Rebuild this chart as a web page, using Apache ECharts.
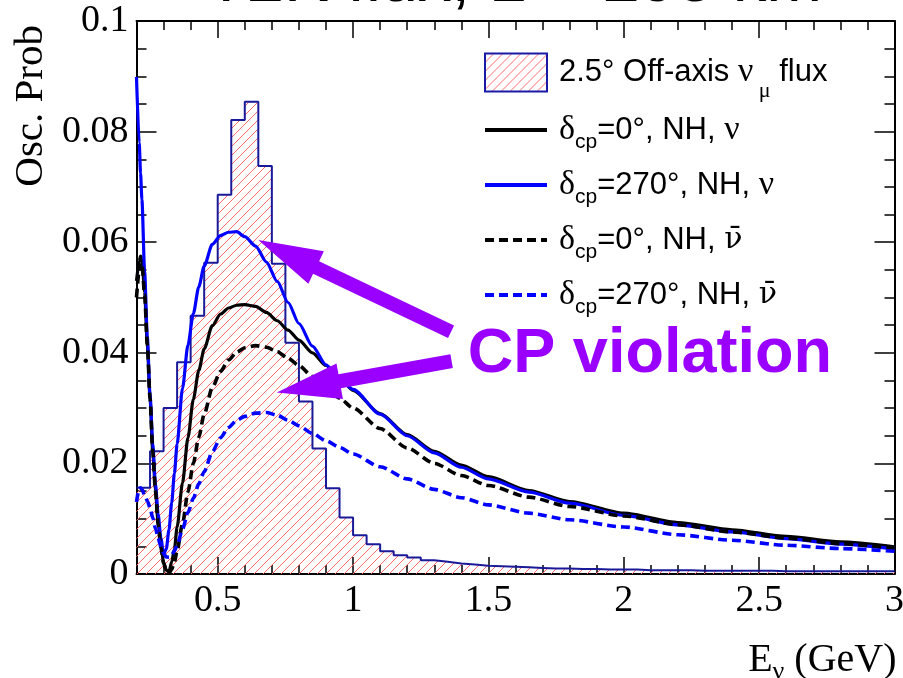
<!DOCTYPE html>
<html><head><meta charset="utf-8">
<script src="https://cdn.jsdelivr.net/npm/echarts@6/dist/echarts.min.js"></script>
<style>html,body{margin:0;padding:0;background:#fff}#c{width:903px;height:678px}</style>
</head><body><div id="c"></div>
<script>
// ---------- data ----------
const energies = [0.20,0.21,0.215,0.22,0.23,0.24,0.25,0.26,0.27,0.28,0.29,0.30,0.31,0.32,0.33,0.34,0.35,0.37,0.39,0.41,0.43,0.45,0.48,0.51,0.54,0.57,0.60,0.64,0.68,0.72,0.76,0.80,0.85,0.90,0.95,1.00,1.10,1.20,1.30,1.40,1.50,1.65,1.80,2.00,2.20,2.40,2.60,2.80,3.00];
const probNu270 = [0.0899,0.0780,0.0725,0.0677,0.0547,0.0429,0.0323,0.0236,0.0163,0.0108,0.0065,0.0036,0.0045,0.0080,0.0129,0.0182,0.0235,0.0336,0.0414,0.0471,0.0519,0.0557,0.0596,0.0612,0.0618,0.0619,0.0610,0.0593,0.0564,0.0529,0.0491,0.0453,0.0412,0.0378,0.0353,0.0334,0.0289,0.0250,0.0219,0.0193,0.0172,0.0148,0.0128,0.0106,0.0089,0.0076,0.0064,0.0054,0.0045];
const probNu0 = [0.0530,0.0565,0.0575,0.0570,0.0510,0.0415,0.0318,0.0222,0.0152,0.0092,0.0055,0.0021,0.0007,0.0004,0.0022,0.0045,0.0085,0.0165,0.0246,0.0316,0.0368,0.0407,0.0449,0.0470,0.0481,0.0486,0.0487,0.0484,0.0473,0.0458,0.0441,0.0423,0.0400,0.0377,0.0354,0.0332,0.0290,0.0252,0.0222,0.0197,0.0176,0.0151,0.0131,0.0110,0.0093,0.0080,0.0068,0.0058,0.0049];
const probNuBar0 = [0.0500,0.0550,0.0565,0.0562,0.0505,0.0415,0.0318,0.0222,0.0150,0.0090,0.0048,0.0020,0.0006,0.0002,0.0008,0.0022,0.0042,0.0091,0.0148,0.0200,0.0247,0.0289,0.0337,0.0366,0.0387,0.0401,0.0409,0.0413,0.0410,0.0402,0.0390,0.0377,0.0357,0.0337,0.0318,0.0300,0.0263,0.0228,0.0200,0.0178,0.0160,0.0139,0.0122,0.0105,0.0089,0.0076,0.0065,0.0055,0.0046];
const probNuBar270 = [0.0130,0.0155,0.0156,0.0153,0.0143,0.0132,0.0120,0.0101,0.0083,0.0065,0.0050,0.0037,0.0031,0.0030,0.0034,0.0042,0.0052,0.0081,0.0111,0.0137,0.0163,0.0185,0.0221,0.0246,0.0265,0.0278,0.0285,0.0291,0.0292,0.0287,0.0278,0.0268,0.0254,0.0241,0.0229,0.0217,0.0194,0.0172,0.0153,0.0138,0.0125,0.0110,0.0098,0.0085,0.0071,0.0061,0.0052,0.0046,0.0041];

const fluxStart = 0.2, fluxBinWidth = 0.05;
const fluxValues = [0.0156,0.0222,0.0300,0.0383,0.0467,0.0563,0.0686,0.0821,0.0854,0.0738,0.0561,0.0418,0.0312,0.0227,0.0155,0.0102,0.0070,
  0.0054,0.0041,0.0034,0.0030,0.0025,0.0022,0.0019,0.0017,0.0015,0.0014,0.0013,0.0012,0.0011,0.0010,0.0010,0.0009,0.0009,0.0008,0.0008,0.0008,
  0.0007,0.0007,0.0007,0.0007,0.0006,0.0006,0.0006,0.0006,0.0006,0.0006,0.0005,0.0005,0.0005,0.0005,0.0005,0.0005,0.0005,0.0005,0.0005];

const xMajorTicks = [0.5,1,1.5,2,2.5,3];
const xMinorTicks = [0.3,0.4,0.6,0.7,0.8,0.9,1.1,1.2,1.3,1.4,1.6,1.7,1.8,1.9,2.1,2.2,2.3,2.4,2.6,2.7,2.8,2.9];

const seriesNames = ['2.5° Off-axis νμ flux','δcp=0°, NH, ν','δcp=270°, NH, ν','δcp=0°, NH, ν̄','δcp=270°, NH, ν̄'];
const legendLabels = {
  '2.5° Off-axis νμ flux': '2.5° Off-axis {g|ν}{mu| μ} flux',
  'δcp=0°, NH, ν': '{g|δ}{sub|cp}=0°, NH, {g|ν}',
  'δcp=270°, NH, ν': '{g|δ}{sub|cp}=270°, NH, {g|ν}',
  'δcp=0°, NH, ν̄': '{g|δ}{sub|cp}=0°, NH, {gb|ν\u0304}',
  'δcp=270°, NH, ν̄': '{g|δ}{sub|cp}=270°, NH, {gb|ν\u0304}'
};
const xTitle = '{t|E}{s|ν}{t| (GeV)}';
const yTitle = 'Osc. Prob';
const plotTitle = 'T2K flux, L = 295 km';
// annotation anchors (data space): [tail, tip]
const arrowUpper = [[1.362, 0.0438], [0.650, 0.0604]];
const arrowLower = [[1.364, 0.0385], [0.718, 0.0328]];
const cpTextAnchor = [1.424, 0.0396];

// ---------- build ----------
function hatchCanvas(){
  const c = document.createElement('canvas'); c.width = 9; c.height = 9;
  const g = c.getContext('2d');
  g.strokeStyle = '#ff6a6a'; g.lineWidth = 1;
  g.beginPath();
  g.moveTo(-1,10); g.lineTo(10,-1);
  g.moveTo(-1,1); g.lineTo(1,-1);
  g.moveTo(8,10); g.lineTo(10,8);
  g.stroke();
  return c;
}
const hatch = {image: hatchCanvas(), repeat: 'repeat'};

const fluxData = fluxValues.map((v,i)=>[+(fluxStart + i*fluxBinWidth).toFixed(2), v]);
fluxData.push([+(fluxStart + fluxValues.length*fluxBinWidth).toFixed(2), fluxValues[fluxValues.length-1]]);
const pair = arr => energies.map((e,i)=>[e, arr[i]]);

const serif = 'Liberation Serif', sans = 'Liberation Sans';
const tickColor = '#000';

function xAxisDef(pos, major){
  return {
    type:'value', min:0.2, max:3, position:pos,
    axisLine:{show:major, lineStyle:{color:'#000', width:2}},
    splitLine:{show:false},
    axisTick:{show:true, inside:true, length: major?17:9, lineStyle:{color:tickColor, width:1.5}, customValues: major?xMajorTicks:xMinorTicks},
    axisLabel:{show: major && pos==='bottom', customValues:xMajorTicks, fontFamily:serif, fontSize:38, color:'#000', margin:8},
  };
}
function yAxisDef(pos){
  return {
    type:'value', min:0, max:0.1, interval:0.02, position:pos,
    axisLine:{show:true, lineStyle:{color:'#000', width:2}},
    splitLine:{show:false},
    axisTick:{show:true, inside:true, length:20, lineStyle:{color:tickColor, width:1.5}},
    minorTick:{show:true, splitNumber:4, length:10, lineStyle:{color:tickColor, width:1.5}},
    axisLabel:{show: pos==='left', fontFamily:serif, fontSize:38, color:'#000', margin:8}
  };
}

function lineSeries(name, data, color, dashed){
  return {name, type:'line', data, xAxisIndex:0, yAxisIndex:0, showSymbol:false, symbol:'none',
    smooth:0.25, smoothMonotone:'x', z:3,
    lineStyle:{color, width: dashed?3.6:3.2, type: dashed?[9,5]:'solid'}, itemStyle:{color}};
}
const lineLegendItem = (name, color, dashed) => ({name, itemStyle:{opacity:0, color:'rgba(0,0,0,0)'},
  lineStyle:{color, width:4, type: dashed?[9,5]:'solid'}});

const option = {
  animation:false,
  backgroundColor:'#ffffff',
  grid:{left:136.5, right:8.5, top:21, bottom:104, containLabel:false, outerBoundsMode:'none'},
  xAxis: [xAxisDef('bottom',true), xAxisDef('bottom',false), xAxisDef('top',true), xAxisDef('top',false)],
  yAxis: [yAxisDef('left'), yAxisDef('right')],
  legend:{
    orient:'vertical', left:483, top:42.5, padding:0, itemWidth:62, itemHeight:38, itemGap:0, selectedMode:false,
    textStyle:{fontFamily:sans, fontSize:31, color:'#000', lineHeight:55, padding:[0,0,0,7],
      rich:{
        g:{fontFamily:serif, fontSize:34, lineHeight:55},
        gb:{fontFamily:'DejaVu Serif', fontSize:30, lineHeight:55},
        sub:{fontFamily:sans, fontSize:21, lineHeight:55, padding:[24,0,0,0]},
        mu:{fontFamily:serif, fontSize:22, lineHeight:55, padding:[38,0,0,0]}
      }},
    formatter: n => legendLabels[n],
    data:[
      {name:seriesNames[0], icon:'rect', itemStyle:{color:hatch, borderColor:'#1a1aa6', borderWidth:2}},
      lineLegendItem(seriesNames[1], '#000000', false),
      lineLegendItem(seriesNames[2], '#0000ff', false),
      lineLegendItem(seriesNames[3], '#000000', true),
      lineLegendItem(seriesNames[4], '#0000ff', true)
    ]
  },
  series:[
    {name:seriesNames[0], type:'line', data:fluxData, step:'end', showSymbol:false, symbol:'none', z:1,
      lineStyle:{color:'#1a1a99', width:2}, itemStyle:{color:'#1a1a99'},
      areaStyle:{color:hatch, opacity:1, origin:'start'}},
    lineSeries(seriesNames[1], pair(probNu0), '#000000', false),
    lineSeries(seriesNames[2], pair(probNu270), '#0000ff', false),
    lineSeries(seriesNames[3], pair(probNuBar0), '#000000', true),
    lineSeries(seriesNames[4], pair(probNuBar270), '#0000ff', true)
  ]
};

const chart = echarts.init(document.getElementById('c'), null, {renderer:'canvas'});
chart.setOption(option);

function arrowPoly(tailD, tipD){
  const tail = chart.convertToPixel({gridIndex:0}, tailD);
  const tip = chart.convertToPixel({gridIndex:0}, tipD);
  const shaft = 14, headLen = 64, headW = 36;
  const dx = tip[0]-tail[0], dy = tip[1]-tail[1], L = Math.hypot(dx,dy);
  const ux = dx/L, uy = dy/L, px = -uy, py = ux;
  const bx = tip[0]-ux*headLen, by = tip[1]-uy*headLen;
  return [
    [tail[0]+px*shaft/2, tail[1]+py*shaft/2],
    [bx+px*shaft/2, by+py*shaft/2],
    [bx+px*headW/2, by+py*headW/2],
    tip,
    [bx-px*headW/2, by-py*headW/2],
    [bx-px*shaft/2, by-py*shaft/2],
    [tail[0]-px*shaft/2, tail[1]-py*shaft/2]
  ];
}
const purple = '#9900ff';
const cpPos = chart.convertToPixel({gridIndex:0}, cpTextAnchor);
const gridRight = chart.convertToPixel({gridIndex:0}, [3, 0]);
const gridTopLeft = chart.convertToPixel({gridIndex:0}, [0.2, 0.1]);
chart.setOption({
  graphic:[
    {type:'polygon', z:50, shape:{points:arrowPoly(arrowUpper[0], arrowUpper[1])}, style:{fill:purple}},
    {type:'polygon', z:50, shape:{points:arrowPoly(arrowLower[0], arrowLower[1])}, style:{fill:purple}},
    {type:'text', z:51, x:cpPos[0], y:cpPos[1], style:{text:'CP violation', fill:purple, fontFamily:sans, fontWeight:'bold', fontSize:63, align:'left', verticalAlign:'middle'}},
    {type:'text', z:51, x:514, y:-17, style:{text:plotTitle, fill:'#000', fontFamily:sans, fontSize:67, align:'center', verticalAlign:'middle'}},
    {type:'text', z:51, x:gridRight[0]+2, y:gridRight[1]+86, style:{text:xTitle, fill:'#000', fontFamily:serif, fontSize:40, align:'right', verticalAlign:'middle', lineHeight:40,
      rich:{t:{fontFamily:serif, fontSize:40, lineHeight:40, fill:'#000'}, s:{fontFamily:serif, fontSize:26, lineHeight:40, padding:[24,0,0,0], fill:'#000'}}}},
    {type:'text', z:51, x:31, y:gridTopLeft[1]+4, rotation:Math.PI/2, style:{text:yTitle, fill:'#000', fontFamily:serif, fontSize:41, align:'right', verticalAlign:'middle'}}
  ]
});
</script>
</body></html>
